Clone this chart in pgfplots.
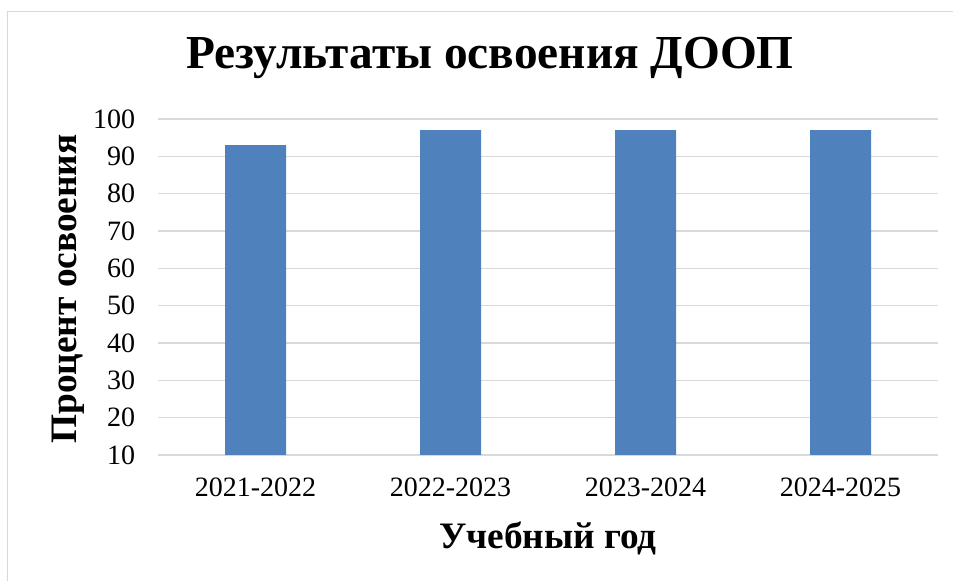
\documentclass[border=0pt]{standalone}
\usepackage{fontspec}
\setmainfont{Liberation Serif}
\usepackage{pgfplots}
\pgfplotsset{compat=1.18}
\definecolor{barblue}{HTML}{4F81BD}
\definecolor{gridgray}{HTML}{D9D9D9}
\begin{document}
\begin{tikzpicture}[x=0.75pt,y=0.75pt]
\useasboundingbox (0,0) rectangle (953,581);
\draw[gridgray, line width=0.9pt] (7.5,-30) -- (7.5,569.5) -- (990,569.5);
\begin{axis}[
  at={(118.5pt,94.5pt)}, anchor=south west,
  scale only axis, width=585pt, height=252pt,
  xmin=-0.5, xmax=3.5, ymin=10, ymax=100,
  ytick={10,20,...,100},
  xtick={0,1,2,3},
  xticklabels={2021-2022,2022-2023,2023-2024,2024-2025},
  axis line style={draw=none},
  major tick length=0pt,
  ymajorgrids,
  grid style={gridgray, line width=1.1pt},
  /pgf/number format/assume math mode=true,
  yticklabel style={font=\fontsize{21}{25}\selectfont, anchor=east, inner sep=0pt, xshift=-17pt},
  xticklabel style={font=\fontsize{21}{25}\selectfont, anchor=north, inner sep=0pt, yshift=-17pt},
  title={Результаты освоения ДООП},
  title style={font=\fontsize{35.5}{42}\selectfont\bfseries, at={(axis description cs:0.4256,1.125)}, anchor=base, inner sep=0pt},
  xlabel={Учебный год},
  xlabel style={font=\fontsize{28}{33}\selectfont\bfseries, at={(axis description cs:0.5,-0.2768)}, anchor=base, inner sep=0pt},
  ylabel={Процент освоения},
  ylabel style={font=\fontsize{28}{33}\selectfont\bfseries, at={(axis description cs:-0.1147,0.494)}, anchor=center, inner sep=0pt},
  ybar, bar width=45.75pt,
  clip=false,
]
\addplot[fill=barblue, draw=none] coordinates {(0,93) (1,97) (2,97) (3,97)};
\end{axis}
\end{tikzpicture}
\end{document}
